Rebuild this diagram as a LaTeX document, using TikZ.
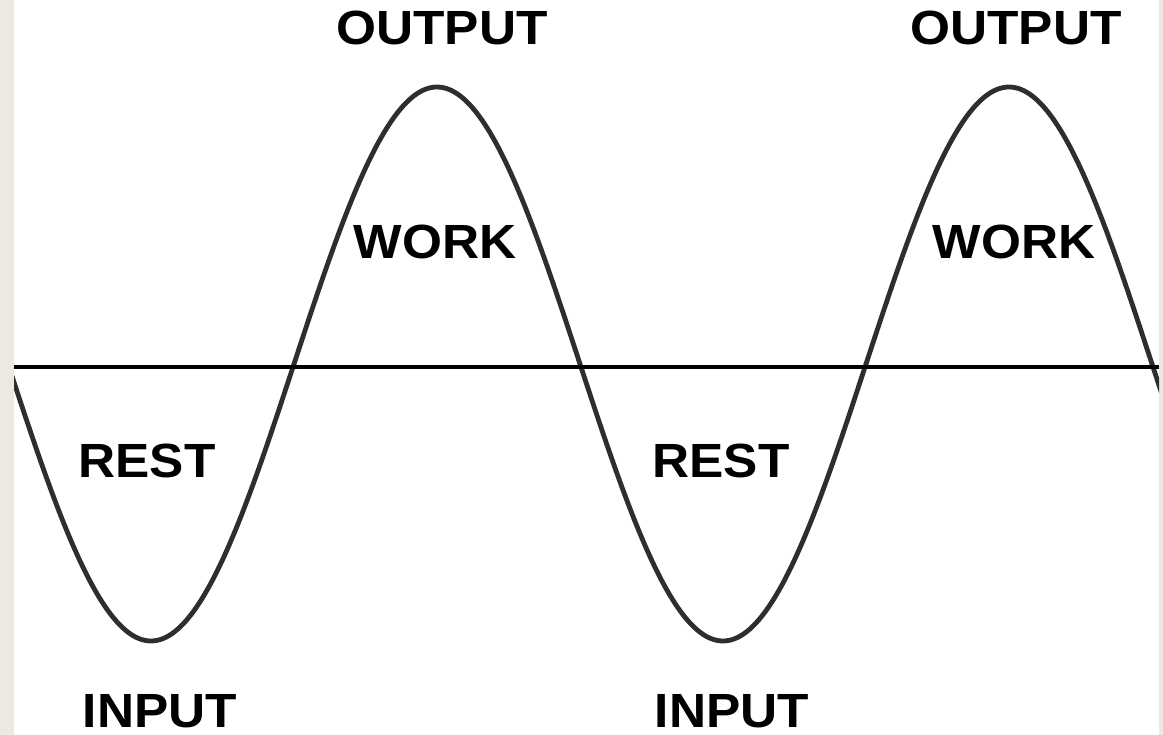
\documentclass[tikz,border=0pt]{standalone}
\usepackage{fontspec}
\setmainfont{Liberation Sans}
\newfontfamily\lblfont[FakeStretch=1.07]{Liberation Sans}
\definecolor{beige}{HTML}{EDE9E0}
\definecolor{wavegray}{HTML}{2E2E2E}
\tikzset{
  lbl/.style={font=\lblfont\fontsize{48}{48}\selectfont\bfseries, text=black, inner sep=0pt, anchor=base},
  wave/.style={draw=wavegray, line width=4.8pt},
  axis/.style={draw=black, line width=4.8pt}
}
\begin{document}
\begin{tikzpicture}[x=1pt,y=-1pt]
  \useasboundingbox (0,0) rectangle (1163,735);
  \fill[beige] (0,0) rectangle (1163,735);
  \fill[white] (14,0) rectangle (1159,735);
  \begin{scope}
    \clip (14,0) rectangle (1159,735);
    \draw[wave, domain=10:1163, samples=400, smooth] plot (\x, {364 - 277*cos(0.629371*(\x-437))});
  \end{scope}
  \coordinate (axL) at (14,367);
  \coordinate (axR) at (1159,367);
  \draw[axis] (axL) -- (axR);
  \node[lbl] (out1) at (442,45) {OUTPUT};
  \node[lbl] (out2) at (1016,45) {OUTPUT};
  \node[lbl] (work1) at (435,259) {WORK};
  \node[lbl] (work2) at (1014,259) {WORK};
  \node[lbl] (rest1) at (147,477) {REST};
  \node[lbl] (rest2) at (721,477) {REST};
  \node[lbl] (in1) at (160,727) {INPUT};
  \node[lbl] (in2) at (732,727) {INPUT};
\end{tikzpicture}
\end{document}
